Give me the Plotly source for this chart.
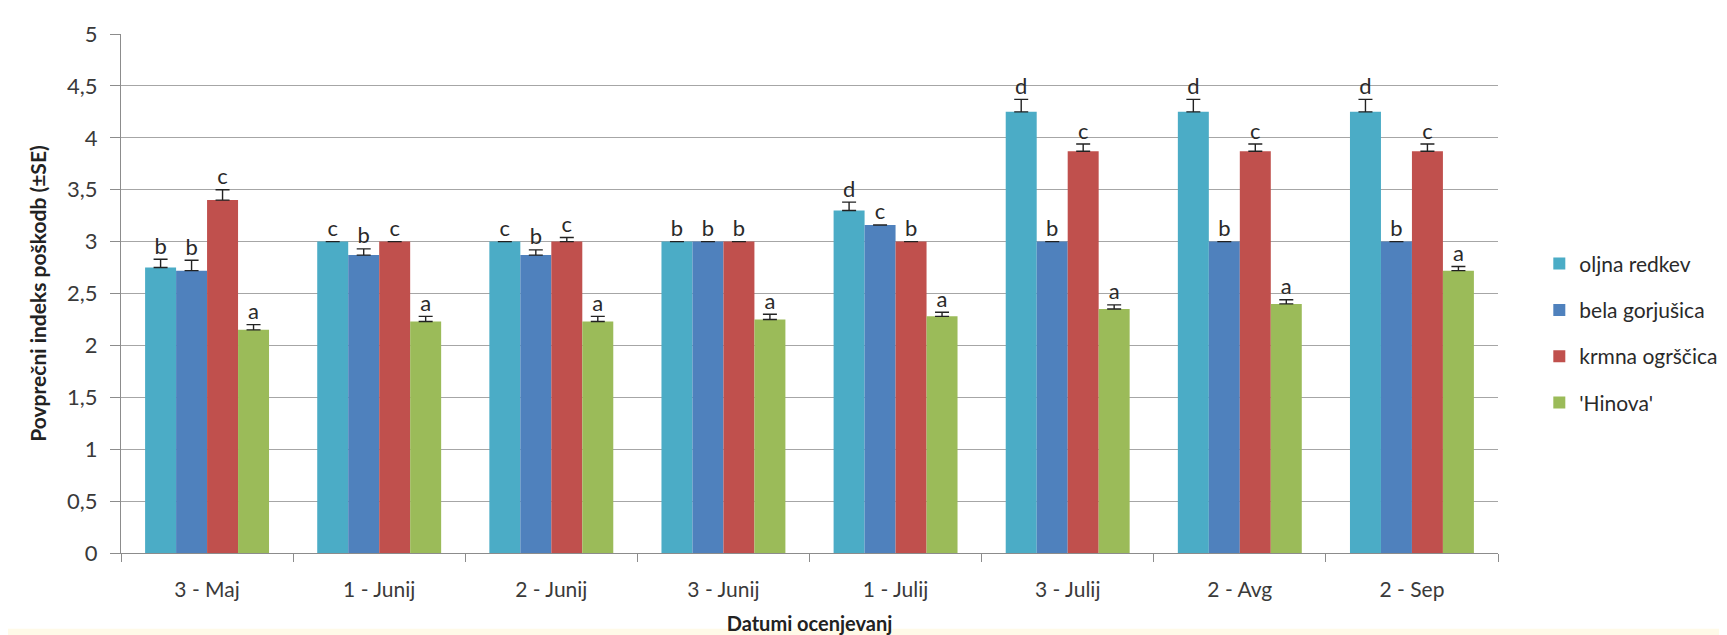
import plotly.graph_objects as go

categories = ["3 - Maj", "1 - Junij", "2 - Junij", "3 - Junij", "1 - Julij", "3 - Julij", "2 - Avg", "2 - Sep"]
series_names = ["oljna redkev", "bela gorjušica", "krmna ogrščica", "'Hinova'"]

oljna = [2.75, 3.00, 3.00, 3.00, 3.30, 4.25, 4.25, 4.25]
bela = [2.72, 2.87, 2.87, 3.00, 3.16, 3.00, 3.00, 3.00]
krmna = [3.40, 3.00, 3.00, 3.00, 3.00, 3.87, 3.87, 3.87]
hinova = [2.15, 2.23, 2.23, 2.25, 2.28, 2.35, 2.40, 2.72]

oljna_se = [0.08, 0.00, 0.00, 0.00, 0.08, 0.12, 0.12, 0.12]
bela_se = [0.10, 0.06, 0.05, 0.00, 0.00, 0.00, 0.00, 0.00]
krmna_se = [0.10, 0.00, 0.04, 0.00, 0.00, 0.07, 0.07, 0.07]
hinova_se = [0.05, 0.05, 0.05, 0.05, 0.04, 0.04, 0.04, 0.04]

oljna_lbl = ["b", "c", "c", "b", "d", "d", "d", "d"]
bela_lbl = ["b", "b", "b", "b", "c", "b", "b", "b"]
krmna_lbl = ["c", "c", "c", "b", "b", "c", "c", "c"]
hinova_lbl = ["a", "a", "a", "a", "a", "a", "a", "a"]

y_ticks = [0, 0.5, 1, 1.5, 2, 2.5, 3, 3.5, 4, 4.5, 5]

colors = ["#4BACC6", "#4F81BD", "#C0504D", "#9BBB59"]
values = [oljna, bela, krmna, hinova]
errors = [oljna_se, bela_se, krmna_se, hinova_se]
labels = [oljna_lbl, bela_lbl, krmna_lbl, hinova_lbl]

FONT = "Lato, 'Open Sans', sans-serif"
bar_w = 0.18
offsets = [-1.5 * bar_w, -0.5 * bar_w, 0.5 * bar_w, 1.5 * bar_w]

fig = go.Figure()
idx = list(range(len(categories)))
for k in range(4):
    xs = [i + offsets[k] for i in idx]
    fig.add_trace(go.Bar(
        x=xs, y=values[k], width=bar_w, name=series_names[k],
        marker=dict(color=colors[k], line=dict(width=0)),
        error_y=dict(type="data", array=errors[k], arrayminus=[0] * len(errors[k]),
                     symmetric=False, visible=True,
                     color="#222222", thickness=1.4, width=7),
        legendgroup=series_names[k],
    ))
for k in range(4):
    xs = [i + offsets[k] for i in idx]
    ys = [v + e for v, e in zip(values[k], errors[k])]
    fig.add_trace(go.Scatter(
        x=xs, y=ys, mode="text", text=labels[k], textposition="top center",
        textfont=dict(family=FONT, size=22, color="#2a2a2a"),
        showlegend=False, hoverinfo="skip", cliponaxis=False,
    ))

fig.update_layout(
    width=1727, height=635,
    barmode="overlay",
    separators=",.",
    paper_bgcolor="white", plot_bgcolor="white",
    margin=dict(l=113, r=233, t=22, b=86),
    font=dict(family=FONT, size=21, color="#3a3a3a"),
    showlegend=True,
    legend=dict(x=1.03, y=0.423, xanchor="left", yanchor="middle",
                font=dict(family=FONT, size=21, color="#2a2a2a"),
                tracegroupgap=16, itemwidth=30, bgcolor="rgba(0,0,0,0)"),
    shapes=[dict(type="rect", xref="paper", yref="paper", x0=-0.2, x1=1.3,
                 y0=-0.166, y1=-0.146, fillcolor="#FFFAE8", line=dict(width=0),
                 layer="below")],
)
fig.update_xaxes(
    range=[-0.5, len(categories) - 0.5],
    tickmode="array", tickvals=idx, ticktext=categories,
    ticks="", showgrid=False, zeroline=False,
    showline=True, linecolor="#8C8C8C", linewidth=1,
    tickfont=dict(family=FONT, size=21, color="#3a3a3a"),
    ticklabelstandoff=18,
    minor=dict(tickmode="array", tickvals=[i + 0.5 for i in range(-1, len(categories))],
               ticks="outside", ticklen=8, tickcolor="#8C8C8C", showgrid=False),
    title=dict(text="<b>Datumi ocenjevanj</b>", standoff=16,
               font=dict(family=FONT, size=20, color="#222222")),
)
fig.update_yaxes(
    range=[0, 5], tickmode="array", tickvals=y_ticks,
    ticks="outside", ticklen=10, tickcolor="#8C8C8C",
    ticklabelstandoff=8,
    showgrid=True, gridcolor="#A6A6A6", gridwidth=1,
    zeroline=False, showline=True, linecolor="#8C8C8C", linewidth=1,
    tickfont=dict(family=FONT, size=22, color="#3a3a3a"),
    title=dict(text="<b>Povprečni indeks poškodb (±SE)</b>", standoff=14,
               font=dict(family=FONT, size=21, color="#222222")),
)

fig.write_html("out.html")
